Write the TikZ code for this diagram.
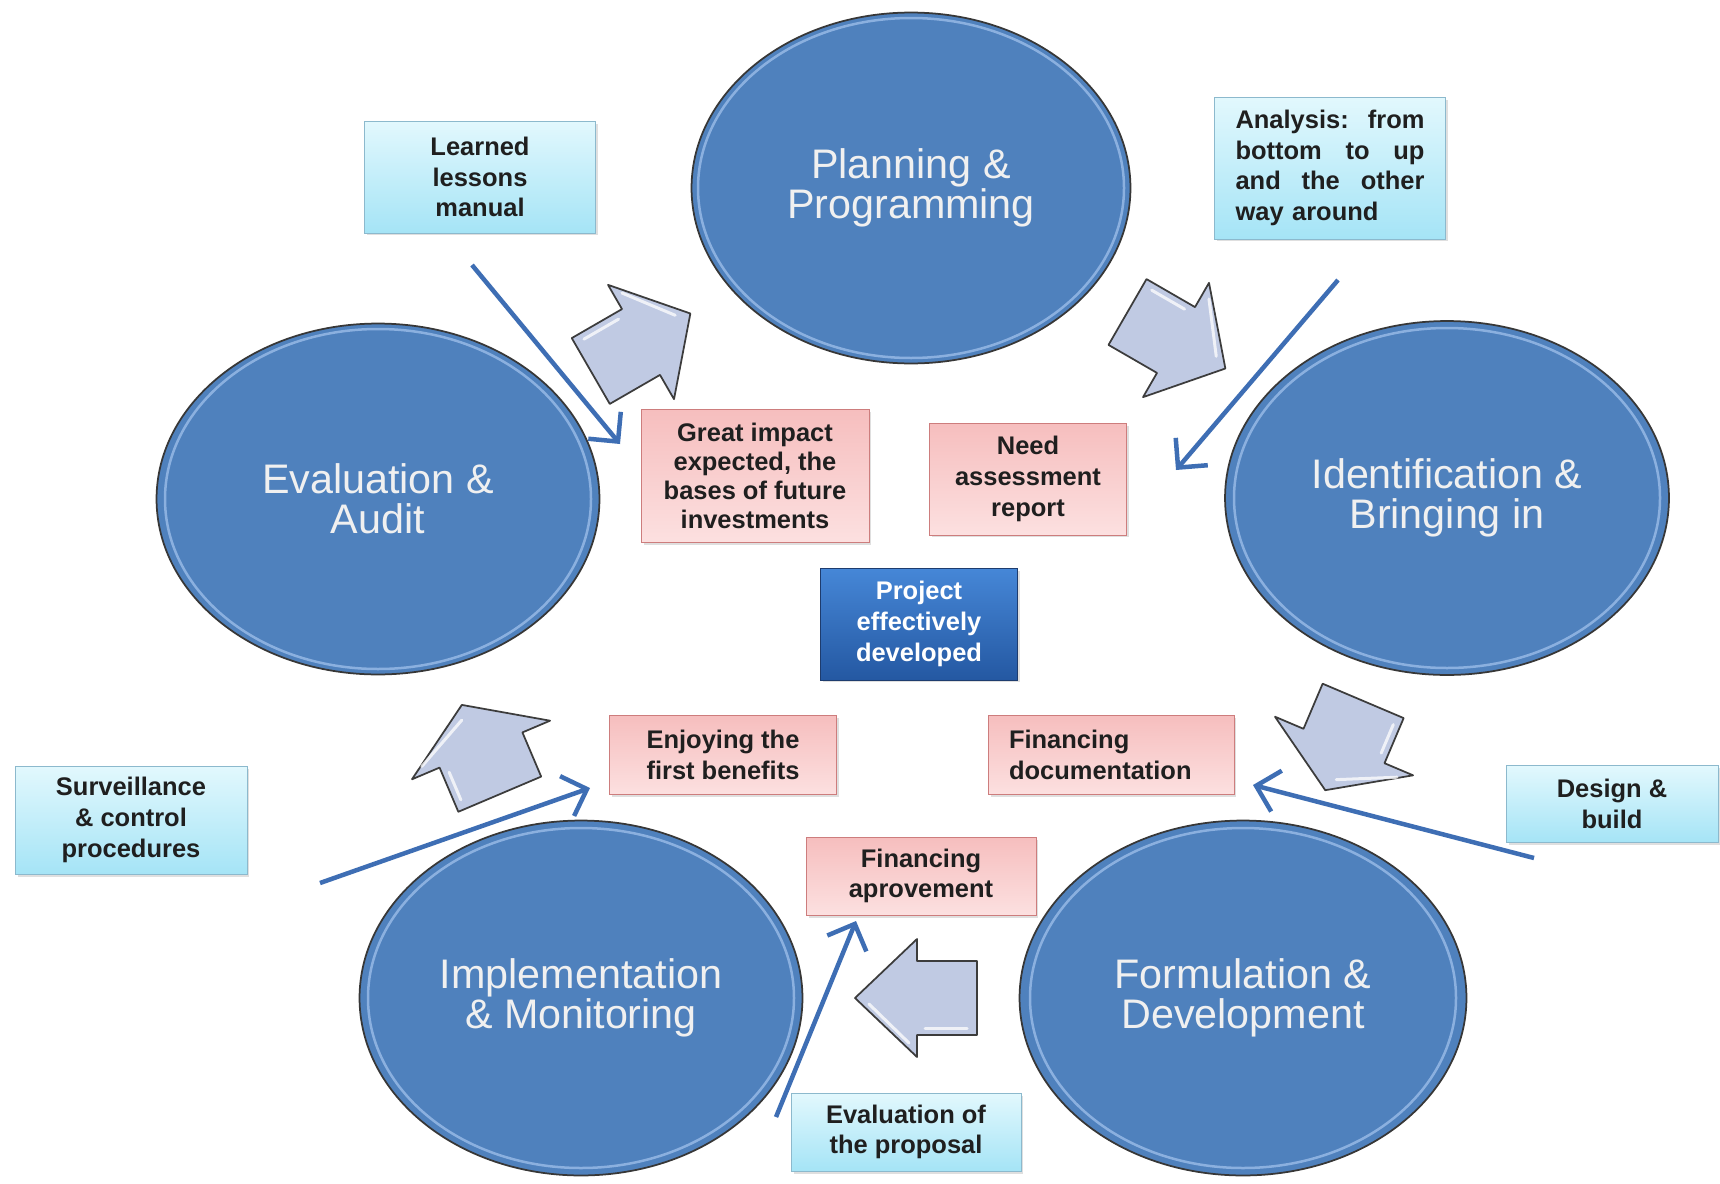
\documentclass[tikz,border=0pt]{standalone}
\usepackage{fontspec}
\setmainfont{Liberation Sans}
\usetikzlibrary{shapes.geometric,arrows.meta,shadows}
\definecolor{phaseblue}{RGB}{79,129,189}
\definecolor{phaseedge}{RGB}{55,55,55}
\definecolor{phasering}{RGB}{150,185,230}
\definecolor{cyantop}{RGB}{226,248,253}
\definecolor{cyanbot}{RGB}{165,228,246}
\definecolor{cyanedge}{RGB}{140,185,205}
\definecolor{pinktop}{RGB}{246,190,190}
\definecolor{pinkbot}{RGB}{252,224,224}
\definecolor{pinkedge}{RGB}{205,125,125}
\definecolor{deeptop}{RGB}{70,135,215}
\definecolor{deepbot}{RGB}{36,88,162}
\definecolor{deepedge}{RGB}{30,60,110}
\definecolor{guideblue}{RGB}{62,110,180}
\definecolor{blockfill}{RGB}{192,202,227}
\definecolor{blockedge}{RGB}{60,60,60}

\tikzset{
  phase/.style={ellipse, fill=phaseblue, draw=phaseedge, line width=0.035cm, inner sep=0pt,
    align=center, text=white!94!black, font=\fontsize{23.5}{22.5}\selectfont},
  ring/.style={draw=phasering, line width=0.05cm, opacity=0.85},
  note/.style={rectangle, inner sep=0pt, align=center, text=black!88,
    font=\fontsize{14.5}{17.5}\selectfont\bfseries,
    drop shadow={shadow xshift=0.05cm, shadow yshift=-0.05cm, opacity=0.25}},
  cyanbox/.style={note, top color=cyantop, bottom color=cyanbot, draw=cyanedge},
  pinkbox/.style={note, top color=pinktop, bottom color=pinkbot, draw=pinkedge},
  deepbox/.style={note, top color=deeptop, bottom color=deepbot, draw=deepedge, text=white},
  guide/.style={guideblue, line width=0.09cm, -{Straight Barb[length=12pt,width=24pt]}},
  blockarrow/.style={fill=blockfill, draw=blockedge, line width=0.035cm, line join=round},
  glint/.style={white, line width=0.06cm, opacity=0.75, line cap=round}
}

\begin{document}
\begin{tikzpicture}[x=0.02cm, y=-0.02cm]
\fill[white] (0,0) rectangle (1720,1183);
\useasboundingbox (0,0) rectangle (1720,1183);

% Phases of the cycle
\node[phase, minimum width=8.78cm, minimum height=7.02cm] (plan) at (911,188) {Planning \&\\Programming};
\node[phase, minimum width=8.86cm, minimum height=7.02cm] (evalaud) at (378,499) {Evaluation \&\\Audit};
\node[phase, minimum width=8.88cm, minimum height=7.08cm] (ident) at (1447,498) {Identification \&\\Bringing in};
\node[phase, minimum width=8.86cm, minimum height=7.10cm] (impl) at (581,998) {Implementation\\\& Monitoring};
\node[phase, minimum width=8.94cm, minimum height=7.10cm] (form) at (1243,998) {Formulation \&\\Development};

\foreach \e in {plan,evalaud,ident,impl,form}
  \draw[ring] (\e.center) ellipse [x radius=213, y radius=170];

% Block arrows between the phases
\foreach \bx/\by/\ang/\s/\h/\w/\hw in {641/342/30/58/57/38/66, 1176/340/-30/56/57/38/66,
    1344/746/-113/49/48/44/75, 481/750/113/48/49/45/75, 917/998/180/60/62/37/59}
{
  \draw[blockarrow, shift={(\bx,\by)}, rotate=\ang]
    (-\s,-\w) -- (0,-\w) -- (0,-\hw) -- (\h,0) -- (0,\hw) -- (0,\w) -- (-\s,\w) -- cycle;
  \draw[glint, shift={(\bx,\by)}, rotate=\ang] (-\s+10,-\w+7) -- (-8,-\w+7);
  \draw[glint, shift={(\bx,\by)}, rotate=\ang] (8,-\hw+14) -- (\h-14,-6);
}

% Notes around the cycle
\node[cyanbox, minimum width=4.62cm, minimum height=2.24cm] (lessons) at (480,177) {Learned\\lessons\\manual};
\node[cyanbox, minimum width=4.62cm, minimum height=2.84cm, text width=3.78cm, align=left] (analysis) at (1330,168)
  {Analysis:\hfill from\\bottom\hfill to\hfill up\\and\hfill the\hfill other\\way around};
\node[cyanbox, minimum width=4.64cm, minimum height=2.16cm] (surv) at (131,820) {Surveillance\\\& control\\procedures};
\node[cyanbox, minimum width=4.24cm, minimum height=1.54cm] (design) at (1612,804) {Design \&\\build};
\node[cyanbox, minimum width=4.60cm, minimum height=1.56cm] (evalprop) at (906,1132) {Evaluation of\\the proposal};

% Results in the middle
\node[pinkbox, minimum width=4.56cm, minimum height=2.66cm, font=\fontsize{14.5}{16.5}\selectfont\bfseries] (impact) at (755,476)
  {Great impact\\expected, the\\bases of future\\investments};
\node[pinkbox, minimum width=3.94cm, minimum height=2.24cm] (need) at (1028,479) {Need\\assessment\\report};
\node[pinkbox, minimum width=4.54cm, minimum height=1.58cm] (enjoy) at (723,755) {Enjoying the\\first benefits};
\node[pinkbox, minimum width=4.92cm, minimum height=1.58cm, text width=4.08cm, align=left] (findoc) at (1111,755)
  {Financing\\documentation};
\node[pinkbox, minimum width=4.60cm, minimum height=1.56cm] (finapp) at (921,876) {Financing\\aprovement};
\node[deepbox, minimum width=3.94cm, minimum height=2.24cm] (project) at (919,624) {Project\\effectively\\developed};

% Thin guide arrows
\coordinate (fromLessons) at (472,265);
\coordinate (toImpact) at (620,444);
\coordinate (fromAnalysis) at (1338,280);
\coordinate (toNeed) at (1176,470);
\coordinate (fromSurv) at (320,883);
\coordinate (toEnjoy) at (590,788);
\coordinate (fromDesign) at (1534,858);
\coordinate (toFindoc) at (1253,785);
\coordinate (fromEvalprop) at (776,1117);
\coordinate (toFinapp) at (856,921);

\draw[guide] (fromLessons) -- (toImpact);
\draw[guide] (fromAnalysis) -- (toNeed);
\draw[guide] (fromSurv) -- (toEnjoy);
\draw[guide] (fromDesign) -- (toFindoc);
\draw[guide] (fromEvalprop) -- (toFinapp);
\end{tikzpicture}
\end{document}
